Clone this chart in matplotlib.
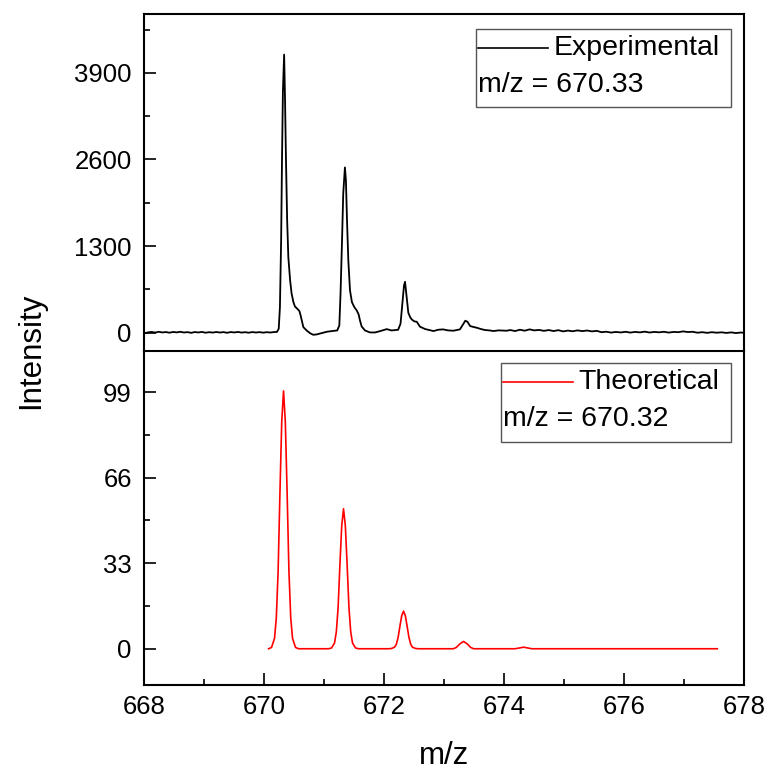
import numpy as np
import matplotlib
matplotlib.use('Agg')
import matplotlib.pyplot as plt
from matplotlib.ticker import MultipleLocator
from matplotlib.lines import Line2D
from matplotlib.offsetbox import AnchoredOffsetbox, VPacker, HPacker, TextArea, DrawingArea

plt.rcParams['font.family'] = ['Liberation Sans', 'DejaVu Sans']

# experimental spectrum
exp_mz = [668.00, 668.06, 668.12, 668.18, 668.24, 668.30, 668.36, 668.42, 668.48, 668.54,
          668.60, 668.66, 668.72, 668.78, 668.84, 668.90, 668.96, 669.02, 669.08, 669.14,
          669.20, 669.26, 669.32, 669.38, 669.44, 669.50, 669.56, 669.62, 669.68, 669.74,
          669.80, 669.86, 669.92, 669.98, 670.04, 670.10, 670.16, 670.21,
          670.24, 670.26, 670.28, 670.295, 670.31, 670.33, 670.345, 670.36, 670.38, 670.40,
          670.43, 670.455, 670.485, 670.51, 670.55, 670.585, 670.605, 670.63, 670.65, 670.705,
          670.76, 670.815, 670.87, 670.955, 671.04, 671.12, 671.215,
          671.25, 671.27, 671.295, 671.315, 671.343, 671.36, 671.378, 671.40, 671.428, 671.46,
          671.50, 671.54, 671.572, 671.594, 671.622, 671.678, 671.76, 671.845, 671.93, 672.04,
          672.12, 672.23,
          672.27, 672.30, 672.328, 672.345, 672.37, 672.40, 672.43, 672.456, 672.50, 672.54,
          672.595, 672.68, 672.75, 672.82, 672.90, 672.98, 673.06, 673.15, 673.26,
          673.305, 673.35, 673.385, 673.43, 673.49, 673.54, 673.61, 673.68, 673.75, 673.82,
          673.90, 674.04,
          674.10, 674.18, 674.26, 674.34, 674.42, 674.50, 674.58, 674.66, 674.74, 674.82,
          674.90, 674.98, 675.06, 675.14, 675.22, 675.30, 675.38, 675.46, 675.54, 675.62,
          675.70, 675.78, 675.86, 675.94, 676.02, 676.10, 676.18, 676.26, 676.34, 676.42,
          676.50, 676.58, 676.66, 676.74, 676.82, 676.90, 676.98, 677.06, 677.14, 677.22,
          677.30, 677.38, 677.46, 677.54, 677.62, 677.70, 677.78, 677.86, 677.94, 678.00]
exp_int = [-10, 5, 12, 2, 14, 4, 10, 0, 12, 5,
           14, 3, 9, -2, 10, 4, 12, 0, 8, 2,
           11, 3, 9, -1, 10, 4, 12, 2, 8, 0,
           10, 3, 9, 1, 8, 3, 10, 12,
           60, 384, 1384, 2634, 3634, 4174, 3500, 2634, 1700, 1134,
           784, 584, 459, 394, 359, 324, 259, 159, 84, 34,
           -6, -31, -26, -6, 14, 24, 34,
           109, 584, 1384, 2084, 2480, 2284, 1684, 1084, 634, 459,
           384, 334, 274, 184, 94, 34, 4, 4, 24, 54,
           34, 44,
           134, 434, 709, 764, 559, 300, 234, 200, 170, 165,
           90, 55, 40, 25, 45, 50, 35, 30, 50,
           115, 180, 165, 100, 85, 75, 55, 40, 35, 25,
           35, 30,
           40, 25, 45, 30, 50, 35, 42, 28, 40, 25,
           38, 20, 32, 22, 35, 24, 33, 20, 28, 8,
           15, 2, 12, 4, 14, 2, 12, 5, 16, 3,
           12, 6, 14, 2, 12, 8, 20, 10, 14, 0,
           8, -2, 8, 0, 6, -3, 5, -5, 3, -2]

# theoretical isotope pattern
theo_mz = [670.07, 670.12, 670.17, 670.20, 670.23, 670.26, 670.29, 670.32, 670.35, 670.38,
           670.41, 670.44, 670.47, 670.52, 670.57,
           671.07, 671.12, 671.17, 671.20, 671.23, 671.26, 671.29, 671.32, 671.35, 671.38,
           671.41, 671.44, 671.47, 671.52, 671.57,
           672.07, 672.12, 672.17, 672.20, 672.23, 672.26, 672.29, 672.32, 672.35, 672.38,
           672.41, 672.44, 672.47, 672.52, 672.57,
           673.15, 673.20, 673.26, 673.32, 673.38, 673.44, 673.49,
           674.18, 674.32, 674.46, 677.55]
theo_int = [0, 0.5, 4, 12, 30, 60, 87.5, 99.5, 87.5, 60,
            30, 12, 4, 0.5, 0,
            0, 0.3, 2.2, 6.5, 16, 32.5, 47.5, 54, 47.5, 32.5,
            16, 6.5, 2.2, 0.3, 0,
            0, 0.1, 0.6, 1.7, 4.4, 8.7, 12.8, 14.5, 12.8, 8.7,
            4.4, 1.7, 0.6, 0.1, 0,
            0, 0.5, 1.9, 2.8, 1.9, 0.5, 0,
            0, 0.6, 0, 0]

fig = plt.figure(figsize=(7.71, 7.73), dpi=100)
ax1 = fig.add_axes([0.1872, 0.5463, 0.7782, 0.4362])
ax2 = fig.add_axes([0.1872, 0.1138, 0.7782, 0.4325], sharex=ax1)

ax1.plot(exp_mz, exp_int, color='black', lw=1.3)
ax2.plot(theo_mz, theo_int, color='red', lw=1.2)

ax1.set_xlim(668, 678)
ax1.set_ylim(-270, 4790)
ax2.set_ylim(-14, 115)

ax1.yaxis.set_major_locator(MultipleLocator(1300))
ax1.yaxis.set_minor_locator(MultipleLocator(650))
ax2.yaxis.set_major_locator(MultipleLocator(33))
ax2.yaxis.set_minor_locator(MultipleLocator(16.5))
ax2.xaxis.set_major_locator(MultipleLocator(2))
ax2.xaxis.set_minor_locator(MultipleLocator(1))

for ax in (ax1, ax2):
    for s in ax.spines.values():
        s.set_linewidth(1.5)
    ax.tick_params(which='major', direction='in', length=8.5, width=1.2,
                   labelsize=18.5, pad=9, right=False, top=False)
    ax.tick_params(which='minor', direction='in', length=4, width=1.2,
                   right=False, top=False)
ax1.spines['bottom'].set_visible(False)
ax1.tick_params(axis='x', which='both', bottom=False, labelbottom=False)
ax2.tick_params(axis='x', which='major', pad=7)

def legend_box(ax, label, color, mz_text, anchor):
    da = DrawingArea(50, 12, 0, 0)
    da.add_artist(Line2D([0, 50], [6, 6], color=color, lw=1.2))
    row1 = HPacker(children=[da, TextArea(label, textprops=dict(size=20.5)),
                             DrawingArea(3, 1)],
                   align='center', pad=0, sep=4)
    row2 = TextArea(mz_text, textprops=dict(size=20.5))
    box = VPacker(children=[DrawingArea(1, 2.8), row1, DrawingArea(1, 8), row2,
                            DrawingArea(1, 5.2)],
                  align='left', pad=0, sep=0)
    ab = AnchoredOffsetbox(loc='upper right', child=box, pad=0.15, borderpad=0,
                           frameon=True, bbox_to_anchor=anchor,
                           bbox_transform=ax.transAxes)
    ab.patch.set_edgecolor('#555555')
    ab.patch.set_linewidth(1.0)
    ax.add_artist(ab)

legend_box(ax1, 'Experimental', 'black', 'm/z = 670.33', (0.978, 0.954))
legend_box(ax2, 'Theoretical', 'red', 'm/z = 670.32', (0.978, 0.962))

fig.text(0.040, 0.5463, 'Intensity', rotation=90, ha='center', va='center', fontsize=22.5)
fig.text(0.576, 0.022, 'm/z', ha='center', va='center', fontsize=22.5)

plt.savefig('out.png', dpi=100)
plt.close(fig)
